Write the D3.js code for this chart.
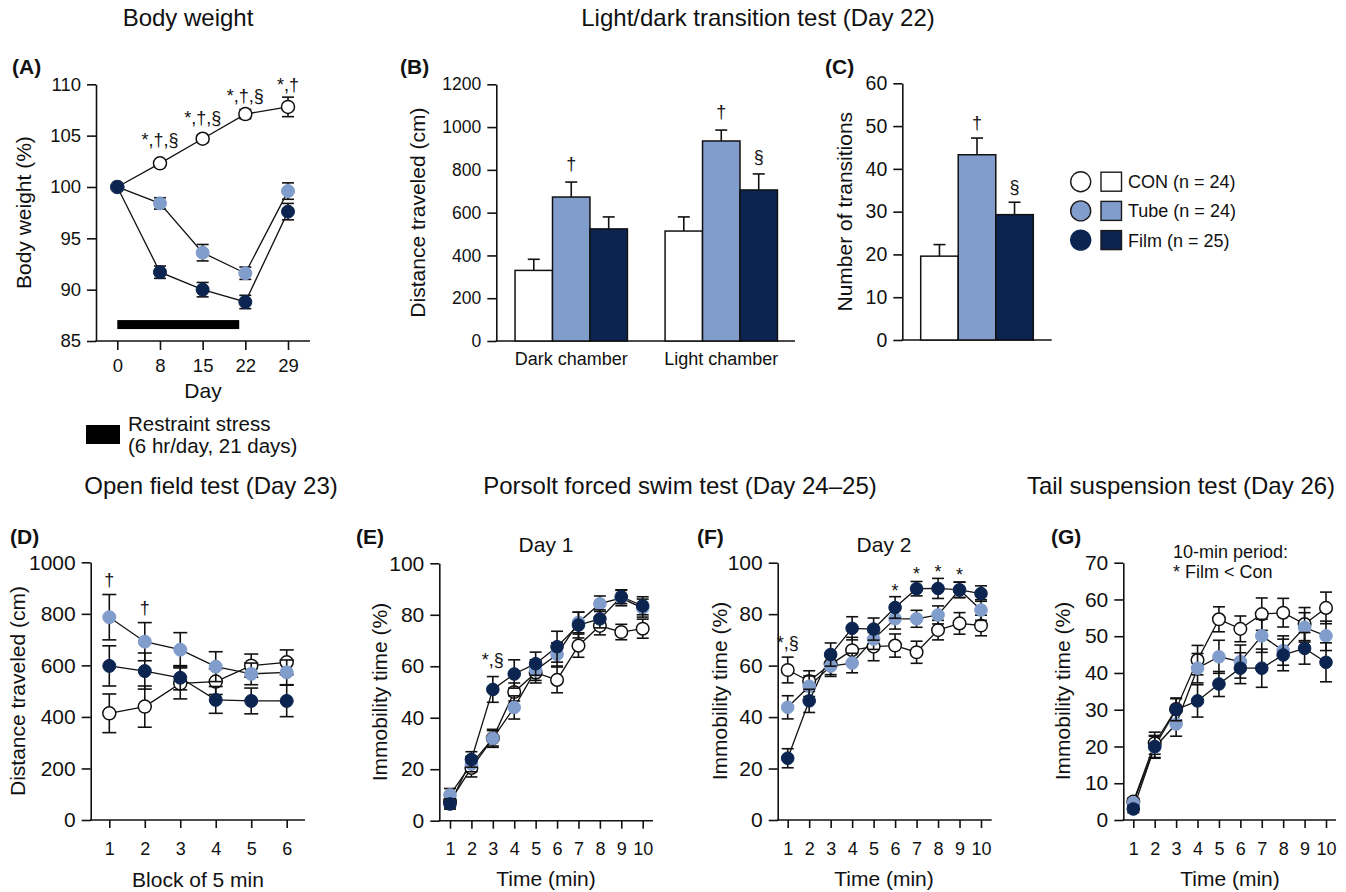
<!DOCTYPE html>
<html><head><meta charset="utf-8">
<script src="https://cdn.jsdelivr.net/npm/d3@7"></script>
<style>
body{margin:0;background:#fff}
text{font-family:"Liberation Sans",Arial,Helvetica,sans-serif;fill:#111}
</style>
</head><body>
<svg id="c" width="1346" height="892"></svg>
<script>
// ---------- DATA ----------
const groups = ["CON (n = 24)", "Tube (n = 24)", "Film (n = 25)"];
const groupFill = ["#ffffff", "#809dcc", "#0c2550"];

// (A) Body weight
const bwDays = [0, 8, 15, 22, 29];
const bwCON = [100, 102.3, 104.7, 107.1, 107.8];
const bwCONErr = [0, 0.3, 0.35, 0.45, 0.95];
const bwTube = [100, 98.4, 93.6, 91.6, 99.6];
const bwTubeErr = [0, 0.55, 0.8, 0.6, 0.8];
const bwFilm = [100, 91.7, 90.0, 88.8, 97.6];
const bwFilmErr = [0, 0.6, 0.7, 0.65, 0.8];
const bwSig = ["", "*,†,§", "*,†,§", "*,†,§", "*,†"];
const bwSigY = [null, 104.0, 106.1, 108.3, 109.35];
const bwTicks = [85, 90, 95, 100, 105, 110];
const restraintDays = [0, 21];
const restraintLevel = 86.6;

// (B) Light/dark distance
const ldChambers = ["Dark chamber", "Light chamber"];
const ldCON = [330, 514], ldCONErr = [52, 66];
const ldTube = [673, 935], ldTubeErr = [70, 51];
const ldFilm = [524, 706], ldFilmErr = [56, 75];
const ldSig = [["", "†", ""], ["", "†", "§"]];
const ldSigY = [[null, 799, null], [null, 1042, 831]];
const ldTicks = [0, 200, 400, 600, 800, 1000, 1200];

// (C) Transitions
const trVals = [19.6, 43.3, 29.3];
const trErr = [2.7, 3.9, 2.9];
const trSig = ["", "†", "§"];
const trSigY = [null, 49.3, 34.3];
const trTicks = [0, 10, 20, 30, 40, 50, 60];

// (D) Open field
const ofBlocks = [1, 2, 3, 4, 5, 6];
const ofCON = [414, 440, 530, 537, 599, 612], ofCONErr = [75, 80, 60, 50, 45, 48];
const ofTube = [787, 692, 661, 595, 567, 573], ofTubeErr = [88, 74, 66, 58, 42, 48];
const ofFilm = [598, 578, 552, 466, 462, 462], ofFilmErr = [78, 70, 47, 52, 50, 61];
const ofSig = ["†", "†", "", "", "", ""];
const ofSigY = [908, 799, null, null, null, null];
const ofTicks = [0, 200, 400, 600, 800, 1000];

// (E) Forced swim Day 1
const minutes = [1, 2, 3, 4, 5, 6, 7, 8, 9, 10];
const fs1CON = [7.5, 20.5, 32, 50, 57.5, 54.7, 68, 75.7, 73.3, 74.6];
const fs1CONErr = [2.5, 3.5, 3, 3.5, 4, 5, 4.5, 3.5, 3, 3.7];
const fs1Tube = [10, 22, 32, 44, 58.5, 64.6, 77, 84.3, 86.5, 82.6];
const fs1TubeErr = [2.5, 3, 3.5, 4.5, 4, 4.5, 4, 3, 3, 3.5];
const fs1Film = [6.5, 23.8, 51, 57, 61, 67.6, 76, 78.4, 87, 83.5];
const fs1FilmErr = [2, 3, 5, 5.5, 4.5, 6, 5, 3.5, 2.7, 3.5];
const fs1Sig = ["", "", "*,§", "", "", "", "", "", "", ""];
const fs1SigY = [null, null, 60.1, null, null, null, null, null, null, null];

// (F) Forced swim Day 2
const fs2CON = [58.3, 54, 60.5, 66, 67.4, 67.8, 65.2, 73.8, 76.4, 75.6];
const fs2CONErr = [5, 4, 4, 5, 5.5, 4.5, 4.3, 3.8, 4.2, 4];
const fs2Tube = [43.8, 52, 59.8, 61, 70.3, 78.2, 78.2, 79.7, 89.5, 81.6];
const fs2TubeErr = [4.5, 4, 4, 3.8, 4, 4, 3.3, 3.5, 3, 4];
const fs2Film = [24, 46.3, 64.3, 74.5, 74.2, 82.6, 89.9, 90, 89.4, 88];
const fs2FilmErr = [3.7, 4.5, 4.5, 4.5, 4.3, 4.2, 2.8, 3.9, 3, 3];
const fs2Sig = ["*,§", "", "", "", "", "*", "*", "*", "*", ""];
const fs2SigY = [66.5, null, null, null, null, 86.7, 93.3, 94.1, 92.9, null];
const pctTicks = [0, 20, 40, 60, 80, 100];

// (G) Tail suspension
const tsCON = [5, 20.9, 30.2, 43.5, 54.6, 52, 56, 56.4, 53.3, 57.7];
const tsCONErr = [1, 3, 3, 4, 3.4, 3.5, 4.4, 3.9, 4.5, 4.3];
const tsTube = [4.7, 19.8, 26.1, 41.3, 44.4, 43.1, 50.1, 46.1, 52.4, 50.1];
const tsTubeErr = [1, 3, 3.3, 4, 4.5, 4.5, 4.5, 4, 4, 4];
const tsFilm = [3, 20, 30, 32.4, 37, 41.3, 41.3, 44.9, 46.7, 42.9];
const tsFilmErr = [1, 3, 3, 4.4, 3.4, 4.2, 5.2, 4.3, 4.3, 5.3];
const tsTicks = [0, 10, 20, 30, 40, 50, 60, 70];

// ---------- DRAWING ----------
const svg = d3.select("#c");
const INK = "#111";

function txt(x, y, s, size, anchor = "start", bold = false) {
  return svg.append("text").attr("x", x).attr("y", y).text(s)
    .attr("font-size", size).attr("text-anchor", anchor)
    .attr("font-weight", bold ? "bold" : "normal");
}
function vtxt(x, y, s, size) {
  return svg.append("text").attr("transform", `translate(${x},${y}) rotate(-90)`)
    .attr("text-anchor", "middle").attr("font-size", size).text(s);
}
function styleAxis(g, size) {
  g.selectAll("path,line").attr("stroke", INK).attr("stroke-width", 1.6);
  g.selectAll("text").attr("font-size", size).attr("fill", INK)
    .attr("font-family", '"Liberation Sans",Arial,sans-serif');
  g.attr("font-family", null).attr("font-size", null);
}
function drawYAxis(x0, y, ticks, size) {
  const g = svg.append("g").attr("transform", `translate(${x0},0)`)
    .call(d3.axisLeft(y).tickValues(ticks).tickSize(9).tickPadding(6).tickSizeOuter(0)
      .tickFormat(d3.format("d")));
  styleAxis(g, size);
  return g;
}
function drawXLine(x0, x1, yb) {
  svg.append("line").attr("x1", x0 - 0.8).attr("x2", x1).attr("y1", yb).attr("y2", yb)
    .attr("stroke", INK).attr("stroke-width", 1.6);
}

function linePanel(cfg) {
  const x = cfg.xScale || d3.scalePoint().domain(cfg.cats).range([cfg.xFirst, cfg.xLast]);
  const y = d3.scaleLinear().domain(cfg.domain).range([cfg.yBot, cfg.yTop]);
  drawYAxis(cfg.x0, y, cfg.ticks, cfg.yFont);
  const gx = svg.append("g").attr("transform", `translate(0,${cfg.yBot})`)
    .call(d3.axisBottom(x).tickValues(cfg.cats).tickSize(cfg.xTick || 8).tickPadding(cfg.xPad).tickSizeOuter(0)
      .tickFormat(d => d));
  styleAxis(gx, cfg.xFont);
  gx.select(".domain").remove();
  drawXLine(cfg.x0, cfg.x1, cfg.yBot);

  const line = d3.line().x((d, i) => x(cfg.cats[i])).y(d => y(d));
  cfg.series.forEach(s => {
    svg.append("path").attr("d", line(s.vals)).attr("fill", "none")
      .attr("stroke", INK).attr("stroke-width", 1.3);
  });
  const cw = cfg.capW;
  cfg.series.forEach(s => {
    s.vals.forEach((v, i) => {
      const e = s.errs[i];
      if (!e) return;
      const cx = x(cfg.cats[i]);
      const g = svg.append("g").attr("stroke", INK).attr("stroke-width", 1.6);
      g.append("line").attr("x1", cx).attr("x2", cx).attr("y1", y(v - e)).attr("y2", y(v + e));
      g.append("line").attr("x1", cx - cw).attr("x2", cx + cw).attr("y1", y(v - e)).attr("y2", y(v - e));
      g.append("line").attr("x1", cx - cw).attr("x2", cx + cw).attr("y1", y(v + e)).attr("y2", y(v + e));
    });
    s.vals.forEach((v, i) => {
      svg.append("circle").attr("cx", x(cfg.cats[i])).attr("cy", y(v)).attr("r", cfg.r)
        .attr("fill", s.fill).attr("stroke", s.stroke).attr("stroke-width", s.sw);
    });
  });
  if (cfg.sig) {
    cfg.sig.forEach((t, i) => {
      if (!t) return;
      txt(x(cfg.cats[i]), y(cfg.sigY[i]), t, 18, "middle");
    });
  }
  return { x, y };
}
const mk = (vals, errs, gi) => ({
  vals, errs, fill: groupFill[gi],
  stroke: gi === 0 ? INK : groupFill[gi], sw: gi === 0 ? 1.5 : 1
});

// Titles
txt(188, 26, "Body weight", 24, "middle");
txt(758, 26, "Light/dark transition test (Day 22)", 24, "middle");
txt(211, 494, "Open field test (Day 23)", 24, "middle");
txt(680, 494, "Porsolt forced swim test (Day 24–25)", 24, "middle");
txt(1181, 494, "Tail suspension test (Day 26)", 24, "middle");

// Panel letters
[["(A)", 12, 74], ["(B)", 400, 74], ["(C)", 825, 74], ["(D)", 10, 544],
 ["(E)", 356, 544], ["(F)", 697, 544], ["(G)", 1051, 544]]
  .forEach(([s, x, y]) => txt(x, y, s, 21, "start", true));

// ---- (A)
const aX = d3.scalePoint().domain(bwDays).range([117.3, 288]);
const A = linePanel({
  xScale: aX, cats: bwDays, x0: 96, x1: 310, yTop: 84.3, yBot: 341,
  domain: [85, 110], ticks: bwTicks, yFont: 18.5, xFont: 18.5, xPad: 9, xTick: 9, capW: 6, r: 6.5,
  series: [mk(bwCON, bwCONErr, 0), mk(bwTube, bwTubeErr, 1), mk(bwFilm, bwFilmErr, 2)],
  sig: bwSig, sigY: bwSigY
});
const dayLin = d3.scaleLinear().domain(bwDays).range(bwDays.map(d => aX(d)));
svg.append("rect").attr("x", dayLin(restraintDays[0])).attr("width", dayLin(restraintDays[1]) - dayLin(restraintDays[0]))
  .attr("y", A.y(restraintLevel) - 4.5).attr("height", 9).attr("fill", "#000");
vtxt(31, 212.6, "Body weight (%)", 21);
txt(203, 398, "Day", 21, "middle");
// restraint legend
svg.append("rect").attr("x", 86).attr("y", 425).attr("width", 34).attr("height", 19).attr("fill", "#000");
txt(128, 431, "Restraint stress", 20.5);
txt(128, 453, "(6 hr/day, 21 days)", 20.5);

// ---- (B)
{
  const y = d3.scaleLinear().domain([0, 1200]).range([341, 84.3]);
  drawYAxis(496.3, y, ldTicks, 17.5);
  drawXLine(496.3, 795, 341);
  const xg = d3.scaleBand().domain(ldChambers).range([496.3, 796.2]).paddingInner(0.251).paddingOuter(0.125);
  const xs = d3.scaleBand().domain(groups).range([0, xg.bandwidth()]);
  const vals = [ldCON, ldTube, ldFilm], errs = [ldCONErr, ldTubeErr, ldFilmErr];
  ldChambers.forEach((c, ci) => {
    groups.forEach((gname, gi) => {
      const v = vals[gi][ci], e = errs[gi][ci];
      const bx = xg(c) + xs(gname), cx = bx + xs.bandwidth() / 2;
      svg.append("line").attr("x1", cx).attr("x2", cx).attr("y1", y(v)).attr("y2", y(v + e))
        .attr("stroke", INK).attr("stroke-width", 1.6);
      svg.append("line").attr("x1", cx - 6).attr("x2", cx + 6).attr("y1", y(v + e)).attr("y2", y(v + e))
        .attr("stroke", INK).attr("stroke-width", 1.6);
      svg.append("rect").attr("x", bx).attr("y", y(v)).attr("width", xs.bandwidth()).attr("height", y(0) - y(v))
        .attr("fill", groupFill[gi]).attr("stroke", INK).attr("stroke-width", 1.5);
      if (ldSig[ci][gi]) txt(cx, y(ldSigY[ci][gi]), ldSig[ci][gi], 18, "middle");
    });
    txt(xg(c) + xg.bandwidth() / 2, 365, c, 18, "middle");
  });
  vtxt(425, 212.6, "Distance traveled (cm)", 21);
}

// ---- (C)
{
  const y = d3.scaleLinear().domain([0, 60]).range([340, 83.3]);
  drawYAxis(902.3, y, trTicks, 19.5);
  drawXLine(902.3, 1051.7, 340);
  const xb = d3.scaleBand().domain(groups).range([920.7, 1033.3]);
  groups.forEach((gname, gi) => {
    const v = trVals[gi], e = trErr[gi];
    const bx = xb(gname), cx = bx + xb.bandwidth() / 2;
    svg.append("line").attr("x1", cx).attr("x2", cx).attr("y1", y(v)).attr("y2", y(v + e))
      .attr("stroke", INK).attr("stroke-width", 1.6);
    svg.append("line").attr("x1", cx - 6).attr("x2", cx + 6).attr("y1", y(v + e)).attr("y2", y(v + e))
      .attr("stroke", INK).attr("stroke-width", 1.6);
    svg.append("rect").attr("x", bx).attr("y", y(v)).attr("width", xb.bandwidth()).attr("height", y(0) - y(v))
      .attr("fill", groupFill[gi]).attr("stroke", INK).attr("stroke-width", 1.5);
    if (trSig[gi]) txt(cx, y(trSigY[gi]), trSig[gi], 18, "middle");
  });
  vtxt(852, 211.7, "Number of transitions", 21);
}

// Legend
groups.forEach((gname, gi) => {
  const cy = 181.7 + gi * 29.2;
  svg.append("circle").attr("cx", 1080.7).attr("cy", cy).attr("r", 10)
    .attr("fill", groupFill[gi]).attr("stroke", gi === 2 ? groupFill[2] : "#1a1a1a").attr("stroke-width", 1.4);
  svg.append("rect").attr("x", 1101).attr("y", cy - 9.5).attr("width", 20.5).attr("height", 19)
    .attr("fill", groupFill[gi]).attr("stroke", "#1a1a1a").attr("stroke-width", 1.4);
  txt(1128, cy + 6.5, gname, 18);
});

// ---- (D)
linePanel({
  cats: ofBlocks, xFirst: 109.3, xLast: 286.7, x0: 90.7, x1: 305, yTop: 562.3, yBot: 820,
  domain: [0, 1000], ticks: ofTicks, yFont: 21, xFont: 18, xPad: 14, capW: 7, r: 6.5,
  series: [mk(ofCON, ofCONErr, 0), mk(ofTube, ofTubeErr, 1), mk(ofFilm, ofFilmErr, 2)],
  sig: ofSig, sigY: ofSigY
});
vtxt(25, 691, "Distance traveled (cm)", 21);
txt(198, 887, "Block of 5 min", 21, "middle");

// ---- (E)
linePanel({
  cats: minutes, xFirst: 450, xLast: 642.7, x0: 439.3, x1: 653, yTop: 563.3, yBot: 820.7,
  domain: [0, 100], ticks: pctTicks, yFont: 21, xFont: 18, xPad: 14, capW: 6, r: 6.3,
  series: [mk(fs1CON, fs1CONErr, 0), mk(fs1Tube, fs1TubeErr, 1), mk(fs1Film, fs1FilmErr, 2)],
  sig: fs1Sig, sigY: fs1SigY
});
vtxt(387, 692, "Immobility time (%)", 21);
txt(546, 886, "Time (min)", 21, "middle");
txt(546, 552, "Day 1", 21, "middle");

// ---- (F)
linePanel({
  cats: minutes, xFirst: 787.7, xLast: 981, x0: 777.7, x1: 991.7, yTop: 562.7, yBot: 820,
  domain: [0, 100], ticks: pctTicks, yFont: 21, xFont: 18, xPad: 14, capW: 6, r: 6.3,
  series: [mk(fs2CON, fs2CONErr, 0), mk(fs2Tube, fs2TubeErr, 1), mk(fs2Film, fs2FilmErr, 2)],
  sig: fs2Sig, sigY: fs2SigY
});
vtxt(727, 691, "Immobility time (%)", 21);
txt(884, 886, "Time (min)", 21, "middle");
txt(884, 552, "Day 2", 21, "middle");

// ---- (G)
linePanel({
  cats: minutes, xFirst: 1133.3, xLast: 1326, x0: 1123.3, x1: 1336, yTop: 562.7, yBot: 820,
  domain: [0, 70], ticks: tsTicks, yFont: 21, xFont: 18, xPad: 14, capW: 6, r: 6.3,
  series: [mk(tsCON, tsCONErr, 0), mk(tsTube, tsTubeErr, 1), mk(tsFilm, tsFilmErr, 2)]
});
vtxt(1070, 691, "Immobility time (%)", 21);
txt(1230, 886, "Time (min)", 21, "middle");
txt(1173, 558, "10-min period:", 18);
txt(1173, 578, "* Film < Con", 18);
</script>
</body></html>
